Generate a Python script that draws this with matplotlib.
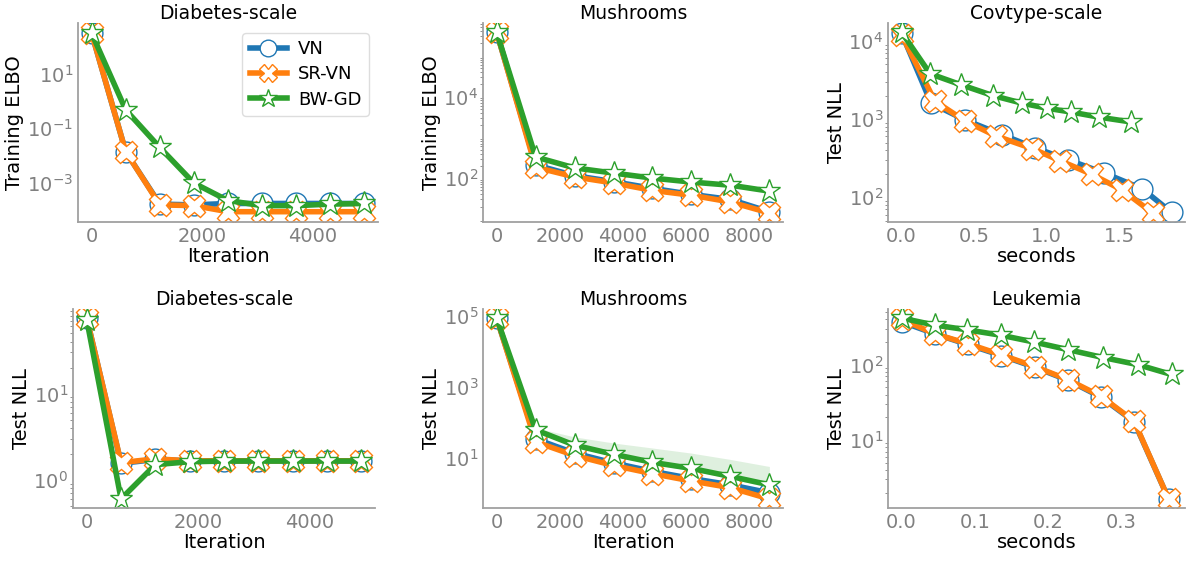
import matplotlib
matplotlib.use("Agg")
import matplotlib.pyplot as plt
import numpy as np

# Diabetes-scale (iterations)
diab_iter = [0, 617, 1234, 1851, 2468, 3085, 3702, 4319, 4936]
diab_elbo_vn = [300, 0.014, 1.7e-4, 1.6e-4, 1.8e-4, 1.8e-4, 1.8e-4, 1.8e-4, 1.8e-4]
diab_elbo_sr = [300, 0.014, 1.6e-4, 1.5e-4, 9e-5, 9e-5, 9e-5, 9e-5, 9e-5]
diab_elbo_bw = [300, 0.47, 0.02, 1.0e-3, 2.3e-4, 1.5e-4, 1.5e-4, 1.7e-4, 1.8e-4]
diab_nll_vn = [75, 1.55, 1.72, 1.66, 1.66, 1.66, 1.66, 1.66, 1.66]
diab_nll_sr = [75, 1.58, 1.75, 1.66, 1.66, 1.66, 1.66, 1.66, 1.66]
diab_nll_bw = [72, 0.6, 1.5, 1.62, 1.65, 1.65, 1.65, 1.65, 1.65]

# Mushrooms (iterations)
mush_iter = [0, 1233, 2466, 3699, 4932, 6165, 7398, 8631]
mush_elbo_vn = [3.8e5, 210, 115, 82, 56, 40, 30, 15]
mush_elbo_sr = [3.8e5, 185, 107, 76, 50, 38, 26, 14]
mush_elbo_bw = [3.8e5, 330, 178, 133, 100, 80, 67, 48]
mush_elbo_bw_hi = [3.8e5, 360, 200, 150, 115, 92, 75, 54]
mush_nll_vn = [88000, 35, 14, 7.4, 4.3, 2.7, 1.8, 1.07]
mush_nll_sr = [88000, 29, 12, 6.3, 3.7, 2.3, 1.5, 0.72]
mush_nll_bw = [88000, 63, 23.5, 13, 7.7, 5.2, 3.1, 1.8]
mush_nll_bw_hi = [88000, 72, 40, 27, 19.5, 14, 9.3, 5.9]
mush_nll_bw_lo = [88000, 58, 21, 11.5, 6.8, 4.5, 2.7, 1.5]

# Covtype-scale (wall clock)
cov_t_vn = [0.0, 0.204, 0.435, 0.694, 0.918, 1.15, 1.395, 1.66, 1.86]
cov_nll_vn = [12600, 1600, 980, 630, 430, 300, 205, 128, 64]
cov_t_sr = [0.0, 0.23, 0.44, 0.65, 0.90, 1.09, 1.31, 1.52, 1.73]
cov_nll_sr = [12000, 1700, 940, 610, 420, 295, 197, 124, 63]
cov_t_bw = [0.0, 0.197, 0.41, 0.63, 0.83, 1.0, 1.17, 1.36, 1.58]
cov_nll_bw = [13000, 3800, 2750, 2000, 1600, 1380, 1230, 1060, 920]

# Leukemia (wall clock)
leuk_t_vn = [0.0, 0.046, 0.09, 0.136, 0.182, 0.227, 0.272, 0.317, 0.364]
leuk_nll_vn = [370, 255, 185, 132, 92, 62, 37, 17.5, 1.65]
leuk_t_sr = [0.0, 0.046, 0.09, 0.136, 0.182, 0.227, 0.272, 0.317, 0.364]
leuk_nll_sr = [400, 255, 190, 135, 94, 63, 38, 17.8, 1.65]
leuk_t_bw = [0.0, 0.045, 0.089, 0.136, 0.18, 0.227, 0.275, 0.322, 0.368]
leuk_nll_bw = [415, 335, 290, 245, 200, 158, 124, 100, 74]

labels = ["VN", "SR-VN", "BW-GD"]
colors = ["#1f77b4", "#ff7f0e", "#2ca02c"]
markers = ["o", "X", "*"]
msizes = [15, 16, 17]

plt.rcParams.update({
    "font.family": "DejaVu Sans",
    "font.size": 14,
    "axes.edgecolor": "#a0a0a0",
    "axes.linewidth": 1.3,
    "xtick.color": "#808080",
    "ytick.color": "#808080",
    "xtick.labelsize": 14,
    "ytick.labelsize": 14,
    "xtick.major.size": 0,
    "ytick.major.size": 0,
    "ytick.minor.size": 2,
    "xtick.minor.size": 0,
})

fig = plt.figure(figsize=(11.9, 5.61), dpi=100)
W, H = 1190, 561


def make_ax(l, r, t, b):
    ax = fig.add_axes([l / W, 1 - b / H, (r - l) / W, (b - t) / H])
    ax.spines["top"].set_visible(False)
    ax.spines["right"].set_visible(False)
    ax.set_yscale("log")
    return ax


def draw(ax, xs, ys):
    for i in range(3):
        ax.plot(xs[i], ys[i], color=colors[i], lw=4, marker=markers[i], ms=msizes[i],
                mfc="white", mec=colors[i], mew=1.0, label=labels[i])


def decorate(ax, title, xlabel, ylabel, yticks, xticks):
    ax.set_title(title, fontsize=13.5, pad=3)
    ax.set_xlabel(xlabel, fontsize=14, labelpad=1)
    ax.set_ylabel(ylabel, fontsize=14, labelpad=2)
    ax.set_yticks(yticks)
    ax.set_xticks(xticks)


ax1 = make_ax(78, 378, 23, 222)
ax2 = make_ax(483, 783, 23, 222)
ax3 = make_ax(888, 1185, 23, 222)
ax4 = make_ax(73, 375, 309, 508)
ax5 = make_ax(483, 783, 309, 508)
ax6 = make_ax(888, 1185, 309, 508)

# top row
ax1.fill_between(diab_iter, np.array(diab_elbo_sr) * 0.9, np.array(diab_elbo_sr) * 1.1,
                 color=colors[1], alpha=0.15, lw=0)
draw(ax1, [diab_iter] * 3, [diab_elbo_vn, diab_elbo_sr, diab_elbo_bw])
decorate(ax1, "Diabetes-scale", "Iteration", "Training ELBO", [1e1, 1e-1, 1e-3], [0, 2000, 4000])
ax1.legend(loc="upper right", fontsize=13, markerscale=0.8, handlelength=2.1,
           handletextpad=0.6, borderpad=0.4, labelspacing=0.4, framealpha=1,
           edgecolor="#dddddd", bbox_to_anchor=(1.0, 0.995))

ax2.fill_between(mush_iter, mush_elbo_bw, mush_elbo_bw_hi, color=colors[2], alpha=0.15, lw=0)
draw(ax2, [mush_iter] * 3, [mush_elbo_vn, mush_elbo_sr, mush_elbo_bw])
decorate(ax2, "Mushrooms", "Iteration", "Training ELBO", [1e4, 1e2], [0, 2000, 4000, 6000, 8000])

draw(ax3, [cov_t_vn, cov_t_sr, cov_t_bw], [cov_nll_vn, cov_nll_sr, cov_nll_bw])
decorate(ax3, "Covtype-scale", "seconds", "Test NLL", [1e4, 1e3, 1e2], [0.0, 0.5, 1.0, 1.5])

# bottom row
draw(ax4, [diab_iter] * 3, [diab_nll_vn, diab_nll_sr, diab_nll_bw])
decorate(ax4, "Diabetes-scale", "Iteration", "Test NLL", [1e1, 1e0], [0, 2000, 4000])

ax5.fill_between(mush_iter, mush_nll_bw_lo, mush_nll_bw_hi, color=colors[2], alpha=0.15, lw=0)
draw(ax5, [mush_iter] * 3, [mush_nll_vn, mush_nll_sr, mush_nll_bw])
decorate(ax5, "Mushrooms", "Iteration", "Test NLL", [1e5, 1e3, 1e1], [0, 2000, 4000, 6000, 8000])

draw(ax6, [leuk_t_vn, leuk_t_sr, leuk_t_bw], [leuk_nll_vn, leuk_nll_sr, leuk_nll_bw])
decorate(ax6, "Leukemia", "seconds", "Test NLL", [1e2, 1e1], [0.0, 0.1, 0.2, 0.3])

fig.savefig("out.png", dpi=100)
